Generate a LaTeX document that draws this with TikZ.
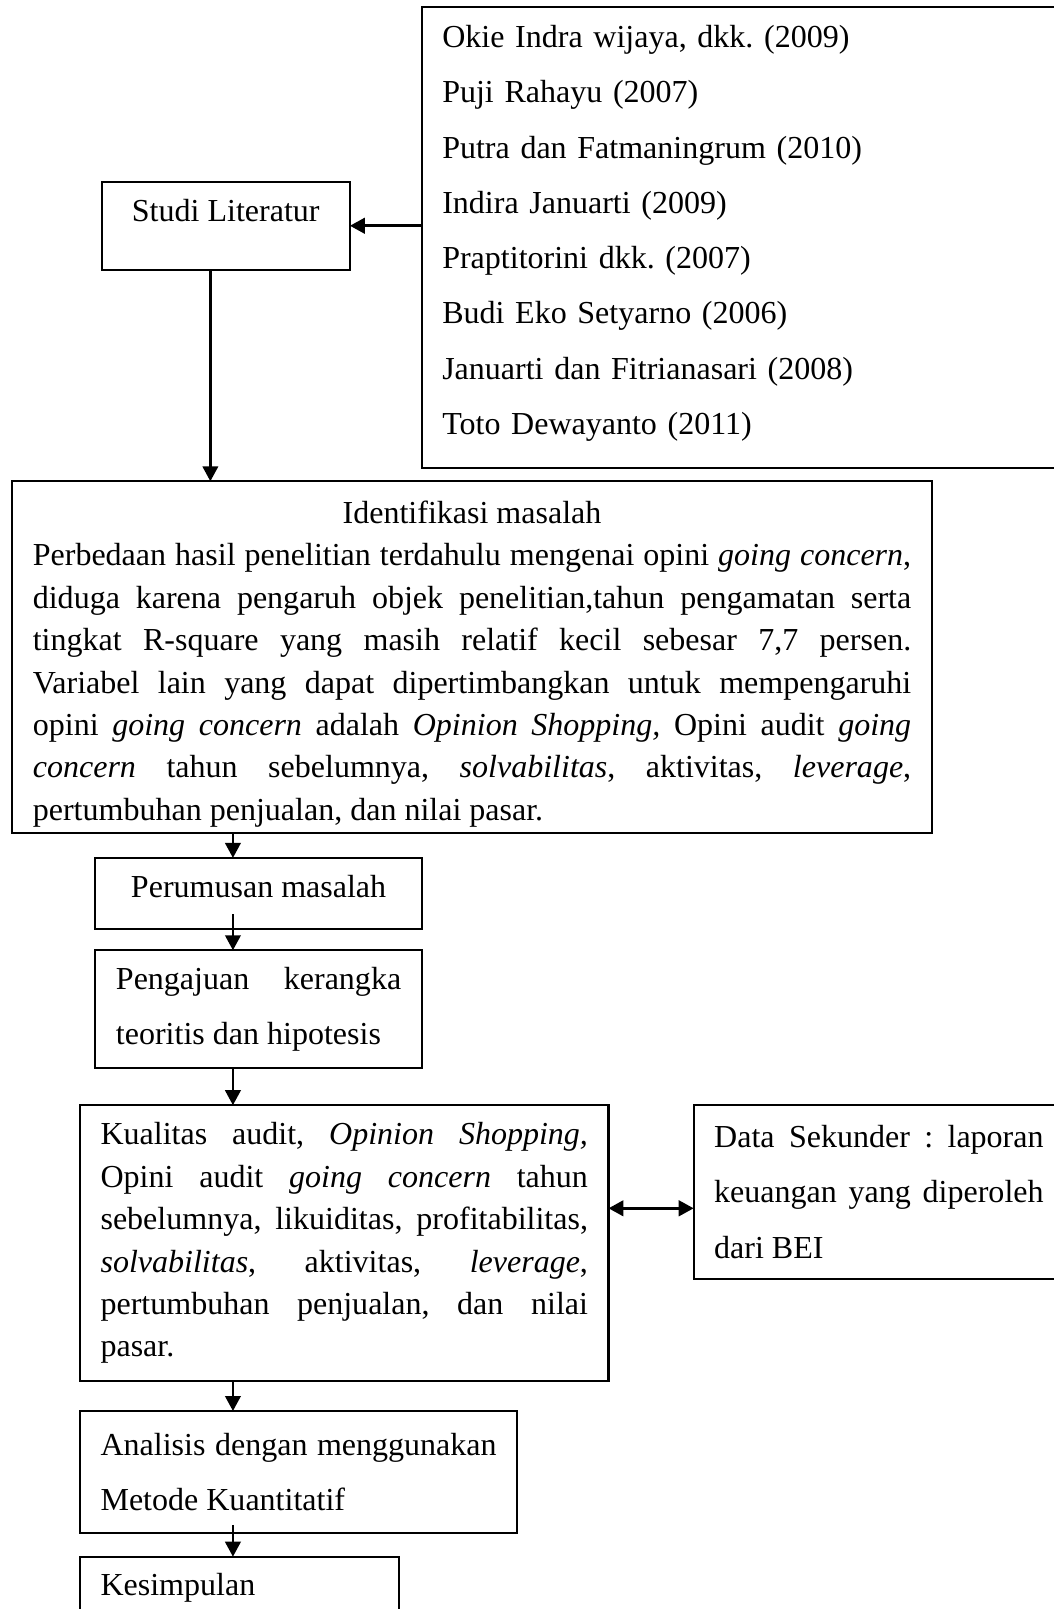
\documentclass[tikz,border=0pt]{standalone}
\usepackage{fontspec}
\setmainfont{Liberation Serif}
\usetikzlibrary{arrows.meta}
\frenchspacing

\newlength\px
\setlength\px{0.3846pt}

\begin{document}
\begin{tikzpicture}[x=\px, y=-\px, line width=0.9pt,
        >={Triangle[length=5.6pt,width=5.8pt]},
        kotak/.style={draw, line width=0.8pt, anchor=north west, inner xsep=20\px,
        inner ysep=0pt, outer sep=0pt},
        rapat/.style={font=\fontsize{12}{15.9}\selectfont},
        renggang/.style={font=\fontsize{12}{20.7}\selectfont},
        tebal/.style={line width=1.1pt}]
        \useasboundingbox (0,0) rectangle (1027,1568);

        \node[kotak, renggang, align=left, text width=609\px, minimum height=449\px] (ref) at (411,7)
            {Okie Indra wijaya, dkk. (2009)\\ Puji Rahayu (2007)\\ Putra dan Fatmaningrum (2010)\\
             Indira Januarti (2009)\\ Praptitorini dkk. (2007)\\ Budi Eko Setyarno (2006)\\
             Januarti dan Fitrianasari (2008)\\ Toto Dewayanto (2011)\rule[-15\px]{0pt}{15\px}};
        \node[kotak, rapat, inner xsep=0pt, minimum width=242\px, text height=39\px, text depth=47\px]
            (studi) at (99,177) {Studi Literatur};
        \node[kotak, rapat, align=justify, text width=856\px, minimum height=343\px] (ident) at (12,469)
            {\makebox[\linewidth]{\rule{0pt}{35\px}Identifikasi masalah}\\
             Perbedaan hasil penelitian terdahulu mengenai opini \textit{going concern},\linebreak
             diduga karena pengaruh objek penelitian,tahun pengamatan serta\linebreak
             tingkat R-square yang masih relatif kecil sebesar 7,7 persen.\linebreak
             Variabel lain yang dapat dipertimbangkan untuk mempengaruhi\linebreak
             opini \textit{going concern} adalah \textit{Opinion Shopping,} Opini audit \textit{going}\linebreak
             \textit{concern} tahun sebelumnya, \textit{solvabilitas}, aktivitas, \textit{leverage},\linebreak
             pertumbuhan penjualan, dan nilai pasar.};
        \node[kotak, rapat, inner xsep=0pt, minimum width=318\px, text height=39\px, text depth=30\px]
            (perumusan) at (93,836) {Perumusan masalah};
        \node[kotak, renggang, align=justify, text width=278\px, minimum height=115\px] (pengajuan) at (93,926)
            {Pengajuan kerangka\linebreak teoritis dan hipotesis};
        \node[kotak, rapat, align=justify, text width=475\px, minimum height=269\px] (kualitas) at (78,1077)
            {Kualitas audit, \textit{Opinion Shopping,}\linebreak
             Opini audit \textit{going concern} tahun\linebreak
             sebelumnya, likuiditas, profitabilitas,\linebreak
             \textit{solvabilitas}, aktivitas, \textit{leverage},\linebreak
             pertumbuhan penjualan, dan nilai\linebreak
             pasar.};
        \node[kotak, renggang, align=justify, text width=321\px, minimum height=169\px] (data) at (676,1077)
            {Data Sekunder : laporan\linebreak keuangan yang diperoleh\linebreak dari BEI};
        \node[kotak, renggang, align=justify, text width=386\px, minimum height=119\px] (analisis) at (78,1375)
            {Analisis dengan menggunakan\linebreak Metode Kuantitatif};
        \node[kotak, rapat, align=left, text width=271\px, text height=38\px, text depth=50\px]
            (kesimpulan) at (78,1517) {Kesimpulan};

        % panah
        \coordinate (spine) at (227,0);
        \coordinate (kanan) at ([yshift=34\px]kualitas.east);
        \draw[->, tebal] (studi.east -| ref.west) -- (studi.east);
        \draw[->] ([xshift=-15\px]studi.south) -- ([xshift=-15\px]studi.south |- ident.north);
        \foreach \atas/\bawah/\s in {ident/perumusan/0, perumusan/pengajuan/14, pengajuan/kualitas/0,
                kualitas/analisis/0, analisis/kesimpulan/8}{
            \draw[->, shorten <=-\s\px] (\atas.south -| spine) -- (\bawah.north -| spine);
        }
        \draw[<->, tebal] (kanan) -- (kanan -| data.west);
    \end{tikzpicture}
\end{document}
